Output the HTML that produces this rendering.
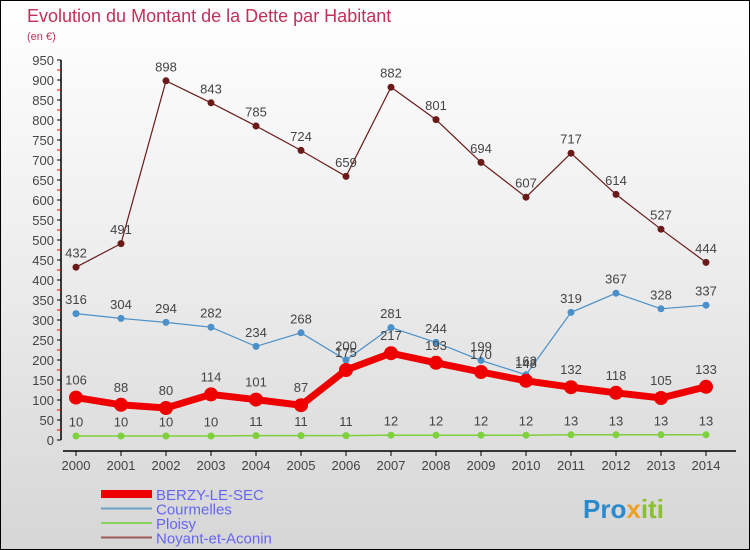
<!DOCTYPE html>
<html><head><meta charset="utf-8"><style>
body{margin:0}
#c{position:relative;width:748px;height:548px;border:1px solid #000;background:linear-gradient(#fff 0%,#f0f0f0 40%,#d6d6d6 100%);overflow:hidden;font-family:"Liberation Sans",sans-serif}
</style></head><body>
<div id="c">
<svg id="s" width="748" height="548"></svg>
</div>
<script>
const years=["2000","2001","2002","2003","2004","2005","2006","2007","2008","2009","2010","2011","2012","2013","2014"];
const berzy=[106,88,80,114,101,87,175,217,193,170,148,132,118,105,133];
const courmelles=[316,304,294,282,234,268,200,281,244,199,163,319,367,328,337];
const ploisy=[10,10,10,10,11,11,11,12,12,12,12,13,13,13,13];
const noyant=[432,491,898,843,785,724,659,882,801,694,607,717,614,527,444];
const yTicks=[0,50,100,150,200,250,300,350,400,450,500,550,600,650,700,750,800,850,900,950];
const NS='http://www.w3.org/2000/svg';
const svg=document.getElementById('s');
const X=i=>75+i*45;
const Y=v=>439-v*0.4;
function el(t,a,p){const e=document.createElementNS(NS,t);for(const k in a)e.setAttribute(k,a[k]);(p||svg).appendChild(e);return e;}
function tx(x,y,s,a){const e=el('text',Object.assign({x:x,y:y},a));e.textContent=s;return e;}
let t=tx(26,21,'Evolution du Montant de la Dette par Habitant',{fill:'#c0305a','font-size':18});

t=tx(26,39,'(en €)',{fill:'#c0305a','font-size':11});

let a=el('line',{x1:60,y1:Y(950),x2:60,y2:439,stroke:'#000','stroke-width':1.5});

yTicks.forEach(v=>{el('line',{x1:56,y1:Y(v),x2:60,y2:Y(v),stroke:'#000'});
 if(v<950)el('line',{x1:56,y1:Y(v+25),x2:60,y2:Y(v+25),stroke:'#e00'});
 const l=tx(53,Y(v)+5,v,{fill:'#444','font-size':13,'text-anchor':'end'});
 });
a=el('line',{x1:62,y1:450,x2:735,y2:450,stroke:'#000','stroke-width':1.5});

years.forEach((y,i)=>{el('line',{x1:X(i),y1:450,x2:X(i),y2:455,stroke:'#000'});
 const l=tx(X(i),469,y,{fill:'#444','font-size':13,'text-anchor':'middle'});
 });
function series(d,col,w,r,name){
 const g=el('g',{});
 el('polyline',{points:d.map((v,i)=>X(i)+','+Y(v)).join(' '),fill:'none',stroke:col,'stroke-width':w},g);
 d.forEach((v,i)=>{const c=el('circle',{cx:X(i),cy:Y(v),r:r,fill:col},g);
  
  const l=tx(X(i),Y(v)-(r+6),v,{fill:'#444','font-size':13,'text-anchor':'middle'},g);
  });
}
series(noyant,'#6b1a1a',1.2,3.5,'noyant-series');
series(courmelles,'#4b90c8',1.2,3.5,'courmelles-series');
series(ploisy,'#7ed03c',1.5,3.5,'ploisy-series');
series(berzy,'#ee0000',7,7,'berzy-series');
const leg=[['BERZY-LE-SEC','#ee0000',8],['Courmelles','#6aa0c8',2],['Ploisy','#8ad060',2],['Noyant-et-Aconin','#9a5a5a',2]];
leg.forEach((l,i)=>{const y=493+i*14.5;const g=el('g',{});
 
 el('line',{x1:100,y1:y,x2:151,y2:y,stroke:l[1],'stroke-width':l[2]},g);
 tx(155,y+6,l[0],{fill:'#6666ee','font-size':15},g);});
const lg=tx(582,517,'',{'font-size':26,'font-weight':'bold'});

[['Pro','#2a8ad0'],['x','#f0a020'],['iti','#88c030']].forEach(p=>{const s=el('tspan',{fill:p[1]},lg);s.textContent=p[0];});
</script>
</body></html>
